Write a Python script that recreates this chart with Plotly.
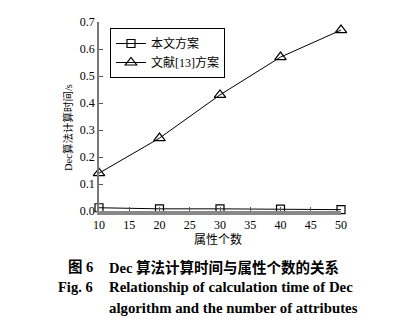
import plotly.graph_objects as go

attrs = [10, 20, 30, 40, 50]
ours = [0.012, 0.008, 0.008, 0.007, 0.005]
ref13 = [0.14, 0.27, 0.43, 0.57, 0.67]
x_ticks = [10, 15, 20, 25, 30, 35, 40, 45, 50]
y_ticks = [0.0, 0.1, 0.2, 0.3, 0.4, 0.5, 0.6, 0.7]

SERIF = "Liberation Serif, Noto Sans CJK SC, serif"

fig = go.Figure()
fig.add_trace(go.Scatter(x=attrs, y=ours, mode="lines+markers", name="本文方案",
                         line=dict(color="black", width=1),
                         marker=dict(symbol="square-open", size=8, color="black", line=dict(width=1.2)),
                         cliponaxis=False))
fig.add_trace(go.Scatter(x=attrs, y=ref13, mode="lines+markers", name="文献[13]方案",
                         line=dict(color="black", width=1),
                         marker=dict(symbol="triangle-up-open", size=10, color="black", line=dict(width=1.2)),
                         cliponaxis=False))

W, H = 414, 323
L, R, T, B = 99, 341, 22, 211

def px(x):
    return (x - L) / (R - L)

def py(y):
    return (B - y) / (B - T)

ann = [
    dict(text="属性个数", x=px(218), y=py(239), size=12),
    dict(text="<b>图 6</b>", x=px(66), y=py(267), xanchor="left", size=14.5),
    dict(text="<b>Dec 算法计算时间与属性个数的关系</b>", x=px(107), y=py(267), xanchor="left", size=14.5),
    dict(text="<b>Fig. 6</b>", x=px(56), y=py(287), xanchor="left", size=14.5),
    dict(text="<b>Relationship of calculation time of Dec</b>", x=px(107), y=py(287), xanchor="left", size=14.8),
    dict(text="<b>algorithm and the number of attributes</b>", x=px(107), y=py(308), xanchor="left", size=14.8),
]
annotations = []
for a in ann:
    annotations.append(dict(text=a["text"], x=a["x"], y=a["y"], xref="paper", yref="paper",
                            xanchor=a.get("xanchor", "center"), yanchor="middle", showarrow=False,
                            font=dict(family=SERIF, size=a.get("size", 12), color="black")))
annotations.append(dict(text="Dec算法计算时间/s", x=px(68), y=py(128), xref="paper", yref="paper",
                        textangle=-90, showarrow=False, xanchor="center", yanchor="middle",
                        font=dict(family=SERIF, size=10.5, color="black")))

fig.update_layout(
    width=W, height=H,
    margin=dict(l=L, r=W - R, t=T, b=H - B),
    paper_bgcolor="white", plot_bgcolor="white",
    font=dict(family=SERIF, size=12, color="black"),
    showlegend=True,
    legend=dict(x=px(110), y=py(28), xanchor="left", yanchor="top",
                bordercolor="black", borderwidth=1, bgcolor="white",
                font=dict(family=SERIF, size=12), tracegroupgap=0, itemwidth=30),
    xaxis=dict(range=[10, 50], tickvals=x_ticks, ticktext=[str(v) for v in x_ticks],
               showgrid=False, zeroline=False, showline=True, linecolor="#888888", linewidth=3.5,
               ticks="inside", ticklen=4, tickcolor="#555555",
               tickfont=dict(family=SERIF, size=12)),
    yaxis=dict(range=[0, 0.7], tickvals=y_ticks, ticktext=[f"{v:.1f}" for v in y_ticks],
               showgrid=False, zeroline=False, showline=True, linecolor="#777777", linewidth=1.5,
               ticks="inside", ticklen=4, tickcolor="#555555",
               tickfont=dict(family=SERIF, size=12)),
    annotations=annotations,
)

fig.write_html("out.html")
